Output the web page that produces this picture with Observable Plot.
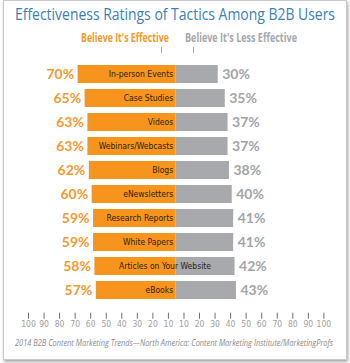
<!DOCTYPE html>
<html>
<head>
<meta charset="utf-8">
<script src="https://cdn.jsdelivr.net/npm/d3@7"></script>
<script src="https://cdn.jsdelivr.net/npm/@observablehq/plot@0.6"></script>
<style>
  html, body { margin: 0; padding: 0; background: #fff; }
  body { width: 350px; height: 363px; position: relative; overflow: hidden; font-family: "Open Sans", sans-serif; }
  #frame { position: absolute; left: 3px; top: 0px; width: 342px; height: 358px; border: 1px solid #c9c9c9; box-shadow: 1px 2px 3px rgba(0,0,0,0.35); background: #fff; }
  .fit { position: absolute; white-space: nowrap; display: inline-block; }
  #title { top: 3px; font-size: 17px; color: #3b7fb6; line-height: 22px; }
  #eff, #less { top: 29px; font-size: 12.5px; font-weight: bold; line-height: 17px; }
  #eff { color: #f59a2e; }
  #less { color: #a6a8ab; }
  .mk { position: absolute; top: 47px; width: 1px; height: 6px; }
  #chart { position: absolute; left: 0; top: 55px; }
  #caption { top: 336px; font-size: 8.5px; font-style: italic; color: #8a8a8a; line-height: 13px; }
</style>
</head>
<body>
<div id="frame"></div>
<span id="title" class="fit"></span>
<span id="eff" class="fit"></span>
<span id="less" class="fit"></span>
<div class="mk" style="left:161px;background:#f59a2e"></div>
<div class="mk" style="left:193px;background:#a6a8ab"></div>
<div id="chart"></div>
<span id="caption" class="fit"></span>
<script>
const title = "Effectiveness Ratings of Tactics Among B2B Users";
const seriesNames = ["Believe It's Effective", "Believe It's Less Effective"];
const caption = "2014 B2B Content Marketing Trends\u2014North America: Content Marketing Institute/MarketingProfs";
const tactics = ["In-person Events", "Case Studies", "Videos", "Webinars/Webcasts", "Blogs", "eNewsletters", "Research Reports", "White Papers", "Articles on Your Website", "eBooks"];
const effective = [70, 65, 63, 63, 62, 60, 59, 59, 58, 57];
const lessEffective = [30, 35, 37, 37, 38, 40, 41, 41, 42, 43];
const tickLabels = ["100","90","80","70","60","50","40","30","20","10","10","20","30","40","50","60","70","80","90","100"];

// place a text horizontally in [x0, x1] by condensing it to that width
function fit(id, text, x0, x1) {
  const el = document.getElementById(id);
  el.textContent = text;
  const w = el.getBoundingClientRect().width;
  const s = (x1 - x0) / w;
  el.style.left = x0 + "px";
  el.style.transformOrigin = "0 50%";
  el.style.transform = `scaleX(${s})`;
}
fit("title", title, 15, 335);
fit("eff", seriesNames[0], 81, 169);
fit("less", seriesNames[1], 185, 297);
fit("caption", caption, 15, 333);

const ORANGE = "#f7941d", GRAY = "#a7a9ac";
const rows = tactics.map((t, i) => ({tactic: t, eff: effective[i], less: lessEffective[i]}));

// axis extent (layout): 20 evenly spaced ticks across the axis
const axisMax = 105.4;
const tickPos = tickLabels.map((_, i) => -axisMax + i * (2 * axisMax) / (tickLabels.length - 1));
const labelAt = new Map(tickPos.map((p, i) => [p, tickLabels[i]]));

const catFamily = "'DejaVu Sans Condensed', sans-serif";
const ctx = document.createElement("canvas").getContext("2d");
ctx.font = "8.5px " + catFamily;
const pxPerUnit = (323.4 - 28) / (2 * axisMax);
rows.forEach(r => { r.fits = ctx.measureText(r.tactic).width + 6 < r.eff * pxPerUnit; });

const H = 275;
const chart = Plot.plot({
  width: 350,
  height: H,
  marginTop: 0, marginBottom: H - 257.7, marginLeft: 0, marginRight: 0,
  x: {domain: [-axisMax, axisMax], range: [28, 323.4]},
  y: {domain: tactics, range: [0.6, 252.7], padding: 0.25, axis: null},
  style: {fontFamily: catFamily},
  marks: [
    Plot.barX(rows, {y: "tactic", x1: d => -d.eff, x2: 0, fill: ORANGE}),
    Plot.barX(rows, {y: "tactic", x1: 0, x2: d => d.less, fill: GRAY}),
    Plot.text(rows.filter(r => r.fits), {y: "tactic", x: 0, text: "tactic", textAnchor: "end", dx: -3, fill: "#2a2218", fontSize: 8.5}),
    Plot.text(rows.filter(r => !r.fits), {y: "tactic", x: d => (d.less - d.eff) / 2, text: "tactic", textAnchor: "middle", fill: "#2a2218", fontSize: 8.5}),
    Plot.text(rows, {y: "tactic", x: d => -d.eff, text: d => d.eff + "%", textAnchor: "end", dx: -4, fill: "#f59a2e", fontSize: 14, fontWeight: "bold", fontFamily: "Lato"}),
    Plot.text(rows, {y: "tactic", x: d => d.less, text: d => d.less + "%", textAnchor: "start", dx: 4, fill: "#a3a5a8", fontSize: 14, fontWeight: "bold", fontFamily: "Lato"}),
    Plot.axisX({ticks: tickPos, tickFormat: d => labelAt.get(d), tickSize: 6, tickPadding: 2, line: true, color: "#a0a0a0", stroke: "#6f6f6f", fontSize: 8.5, label: null})
  ]
});
document.getElementById("chart").appendChild(chart);
</script>
</body>
</html>
